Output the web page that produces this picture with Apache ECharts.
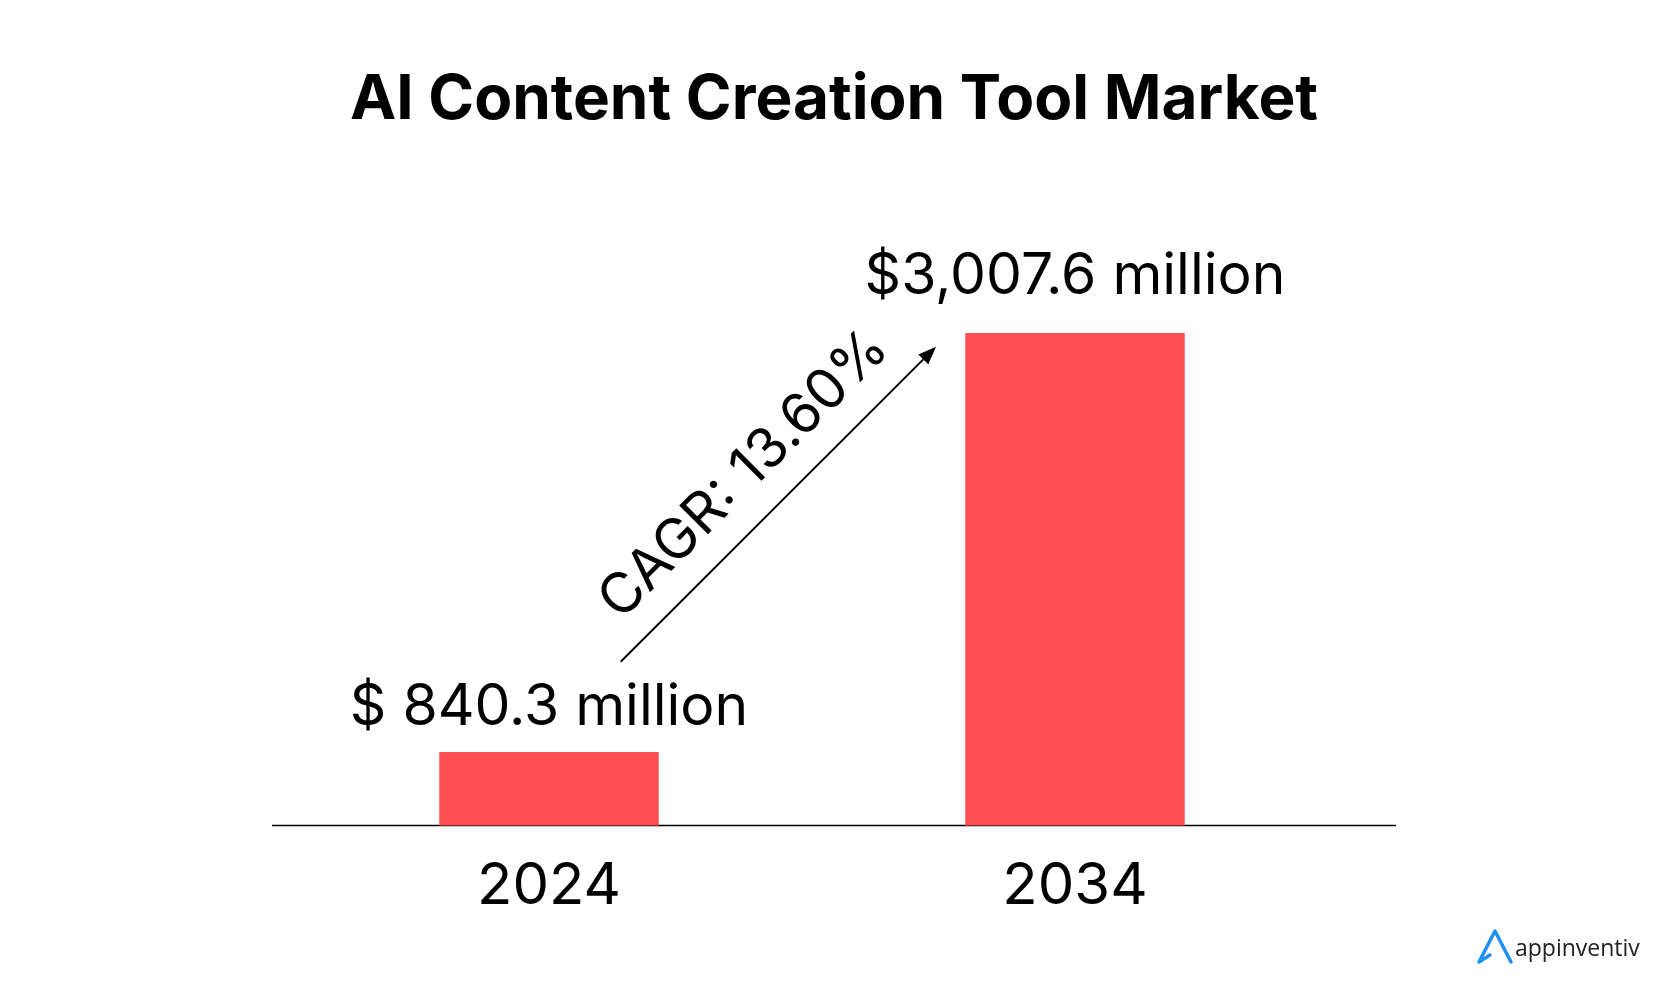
<!DOCTYPE html>
<html>
<head>
<meta charset="utf-8">
<script src="https://cdn.jsdelivr.net/npm/echarts@6/dist/echarts.min.js"></script>
<style>
html,body{margin:0;padding:0;background:#fff;}
#chart{width:1668px;height:989px;}
</style>
</head>
<body>
<div id="chart"></div>
<script>
// ---- data ----
const categories = ['2024', '2034'];
const marketValues = [840.3, 3007.6];
const valueLabels = ['$ 840.3 million', '$3,007.6 million'];
const titleText = 'AI Content Creation Tool Market';
const cagrText = 'CAGR: 13.60%';
const brandText = 'appinventiv';

const FONT = 'Inter, Lato, sans-serif';
const labelDistances = [16, 28];

const chart = echarts.init(document.getElementById('chart'), null, {renderer: 'canvas'});

const seriesData = marketValues.map((v, i) => ({
  value: v,
  label: { distance: labelDistances[i] }
}));

const option = {
  backgroundColor: '#ffffff',
  animation: false,
  title: {
    text: titleText,
    left: 'center',
    top: 64,
    textStyle: { fontFamily: FONT, fontWeight: 'bold', fontSize: 62, color: '#000' }
  },
  grid: { left: 286, right: 330, top: 237.8, bottom: 163.5, containLabel: false },
  xAxis: {
    type: 'category',
    data: categories,
    axisLine: { show: false },
    axisTick: { show: false },
    axisLabel: { fontFamily: FONT, fontSize: 58, color: '#000', margin: 32 }
  },
  yAxis: {
    type: 'value',
    min: 460,
    max: 3500,
    show: false,
    splitLine: { show: false }
  },
  series: [{
    type: 'bar',
    data: seriesData,
    barWidth: 219.5,
    itemStyle: { color: '#FF4F52' },
    label: {
      show: true,
      position: 'top',
      fontFamily: FONT,
      fontSize: 57,
      color: '#000',
      formatter: p => valueLabels[p.dataIndex]
    }
  }],
  graphic: [
    { type: 'line', shape: { x1: 272, y1: 825.5, x2: 1396, y2: 825.5 }, style: { stroke: '#000', lineWidth: 1.5 } },
    { type: 'line', shape: { x1: 620.7, y1: 661.7, x2: 923.3, y2: 359.4 }, style: { stroke: '#000', lineWidth: 2 } },
    { type: 'polygon', shape: { points: [[936, 346.7], [928.25, 364.35], [918.35, 354.45]] }, style: { fill: '#000' } },
    { type: 'text', x: 744, y: 474.5, rotation: Math.PI / 4,
      style: { text: cagrText, fontFamily: FONT, fontSize: 56, fill: '#000', align: 'center', verticalAlign: 'middle' } },
    { type: 'polyline', shape: { points: [[1490, 955], [1479, 962], [1495, 931], [1511, 962]] },
      style: { stroke: '#1E90F5', lineWidth: 3.5, lineJoin: 'round', lineCap: 'round', fill: null } },
    { type: 'text', x: 1515, y: 949,
      style: { text: brandText, fontFamily: '"Open Sans", sans-serif', fontSize: 23, fill: '#222', align: 'left', verticalAlign: 'middle' } }
  ]
};
chart.setOption(option);
</script>
</body>
</html>
